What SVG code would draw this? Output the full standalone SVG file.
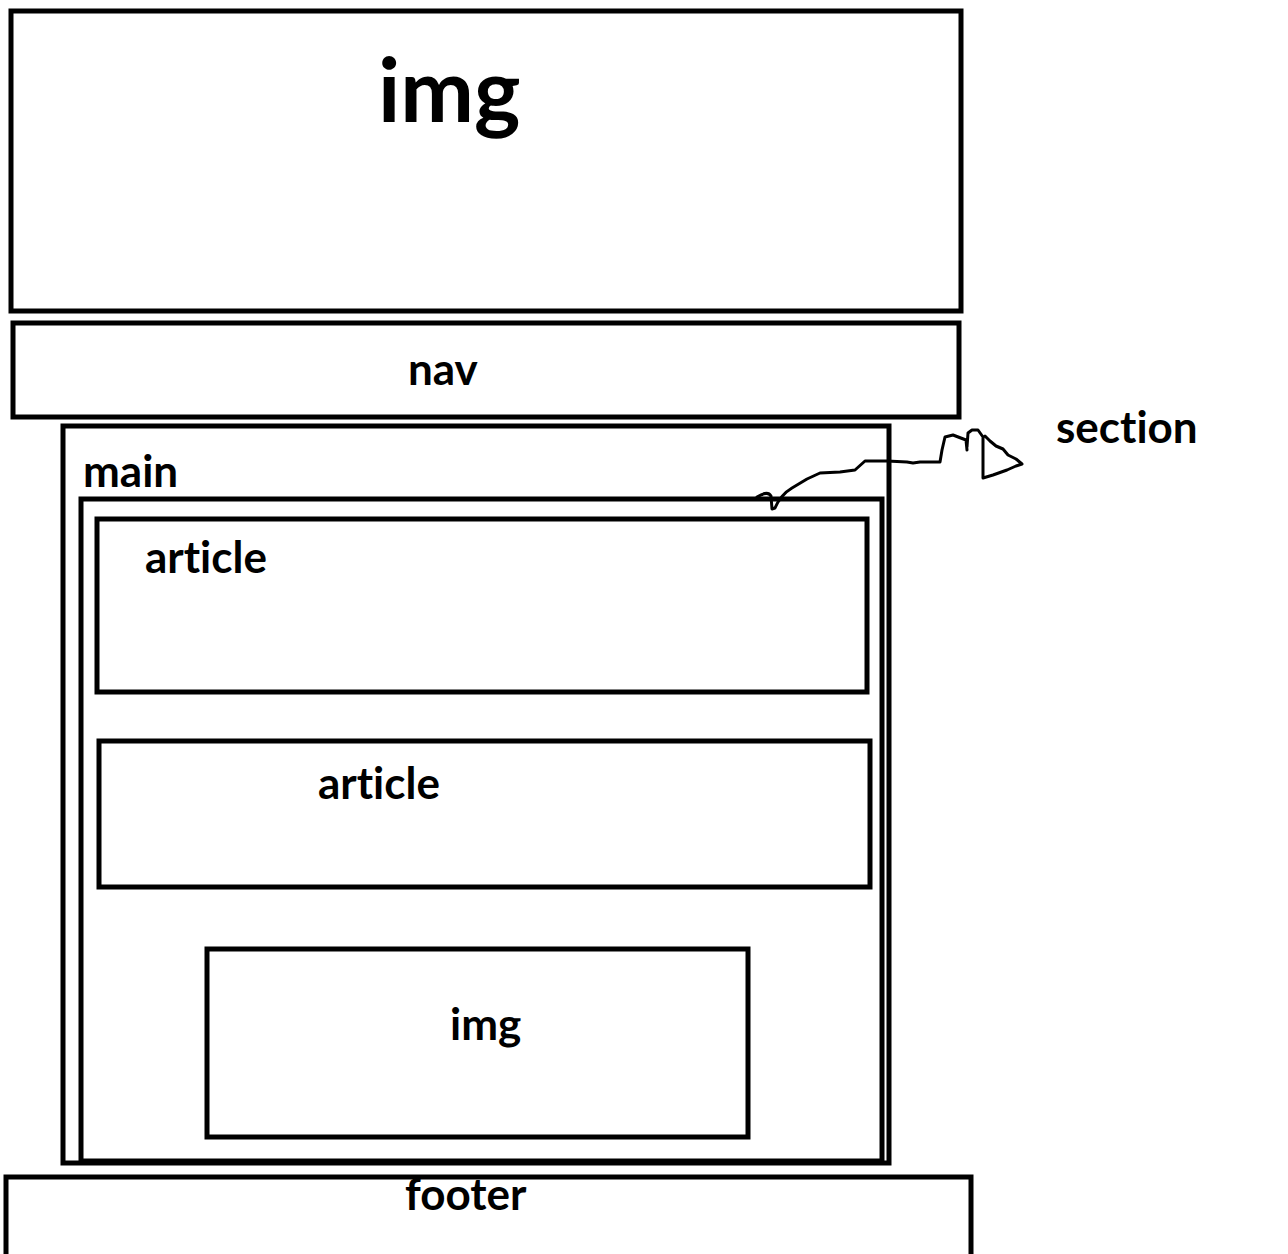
<svg xmlns="http://www.w3.org/2000/svg" width="1288" height="1254" viewBox="0 0 1288 1254">
<style>
.box{fill:none;stroke:#000;stroke-width:5}
.t{font-family:Lato,"Open Sans","Liberation Sans",sans-serif;font-weight:700;fill:#000;font-size:44px;font-variant-ligatures:none}
.big{font-size:88px}
.wire{fill:none;stroke:#000;stroke-width:3;stroke-linejoin:round;stroke-linecap:round}
</style>
<rect width="1288" height="1254" fill="#fff"/>
<g id="img-top"><rect class="box" x="11" y="11" width="950" height="300"/><text class="t big" x="378" y="122">img</text></g>
<g id="nav"><rect class="box" x="13" y="323" width="946" height="94"/><text class="t" x="408" y="385">nav</text></g>
<g id="main"><rect class="box" x="63" y="426" width="826" height="737"/><text class="t" x="83" y="487">main</text></g>
<g id="section"><rect class="box" x="81" y="499" width="801" height="662"/><text class="t" x="1056" y="443">section</text></g>
<g id="article1"><rect class="box" x="97" y="519" width="770" height="173"/><text class="t" x="145" y="573">article</text></g>
<g id="article2"><rect class="box" x="99" y="741" width="771" height="146"/><text class="t" x="318" y="799">article</text></g>
<g id="img-inner"><rect class="box" x="207" y="949" width="541" height="188"/><text class="t" x="450" y="1040">img</text></g>
<g id="footer"><rect class="box" x="6" y="1177" width="965" height="100"/><text class="t" x="405" y="1210">footer</text></g>
<g id="connectors">
<path class="wire" d="M757,497 C762,494 768,491 771,496 L772,509 L775,508 C778,500 785,492 792,488 L807,479 L820,473 L840,472 L855,470 L865,461 L887,461 L907,462 L913,463 L920,462 L940,462 L942,450 L945,437 L953,435 L966,440 L967,450 M967,447 L968,433 L972,430 L978,430 L983,437 L983,478 L993,475 L1007,470 L1016,466 L1022,464 L1016,459 L1008,455 L1003,449 L996,446 L990,441 L985,436"/>
</g>
</svg>
